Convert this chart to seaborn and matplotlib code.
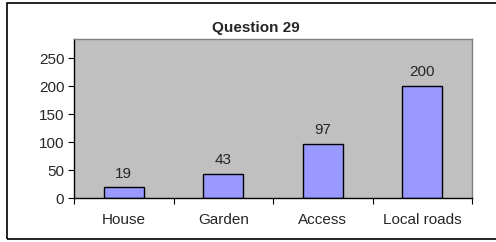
import matplotlib.pyplot as plt
import numpy as np
import pandas as pd
import seaborn as sns
from matplotlib.patches import Rectangle

categories = ["House", "Garden", "Access", "Local roads"]
counts = [19, 43, 97, 200]
yticks = [0, 50, 100, 150, 200, 250]

df = pd.DataFrame({"category": categories, "count": counts})

sns.set_style("white")
plt.rcParams["font.family"] = ["Liberation Sans", "DejaVu Sans"]

fig = plt.figure(figsize=(4.96, 2.42), dpi=100)
W, H = 496, 242
ax = fig.add_axes([74 / W, 1 - 198 / H, (472 - 74) / W, (198 - 39) / H])

sns.barplot(data=df, x="category", y="count", color="#9999FF", width=0.4,
            edgecolor="black", linewidth=1, saturation=1, ax=ax)

ax.set_facecolor("#C0C0C0")
ax.set_xlim(-0.5, len(categories) - 0.5)
ax.set_ylim(0, 284)
ax.set_yticks(yticks)
ax.set_xlabel("")
ax.set_ylabel("")
ax.set_xticks(np.arange(-0.5, len(categories)), minor=True)
ax.tick_params(axis="x", which="major", length=0, labelsize=11, pad=11)
ax.tick_params(axis="x", which="minor", length=4, width=0.8, direction="out", color="black")
ax.tick_params(axis="y", length=4, width=0.8, direction="out", color="black", labelsize=11, pad=3)
ax.tick_params(left=True, bottom=True, which="both")

for side in ["top", "right"]:
    ax.spines[side].set_visible(True)
    ax.spines[side].set_color("#808080")
    ax.spines[side].set_linewidth(1)
for side in ["left", "bottom"]:
    ax.spines[side].set_color("black")
    ax.spines[side].set_linewidth(1)

for i, v in enumerate(counts):
    ax.text(i, v + 12, str(v), ha="center", va="bottom", fontsize=11)

fig.text(256 / W, 1 - 28 / H, "Question 29", ha="center", va="center",
         fontsize=11, fontweight="bold")

# outer chart frame (right edge falls outside the image)
fig.patches.append(Rectangle((7 / W, 1 - 239 / H), 1.0, (239 - 3) / H,
                             transform=fig.transFigure, fill=False,
                             edgecolor="black", linewidth=1.2))

fig.savefig("out.png", dpi=100)
